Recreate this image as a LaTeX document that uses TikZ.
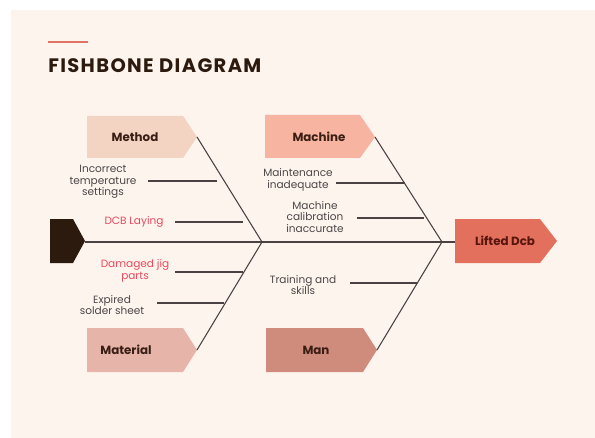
\documentclass[tikz,border=0pt]{standalone}
\usepackage{fontspec}
\setmainfont{Poppins}
\definecolor{bgc}{HTML}{FDF4EE}
\definecolor{methodc}{HTML}{F3D3C2}
\definecolor{materialc}{HTML}{E6B4A9}
\definecolor{machinec}{HTML}{F7B4A0}
\definecolor{manc}{HTML}{CF8B7B}
\definecolor{liftedc}{HTML}{E2705D}
\definecolor{headc}{HTML}{2D1A0E}
\definecolor{bonec}{HTML}{4A4242}
\definecolor{greytext}{HTML}{4B4646}
\definecolor{redtext}{HTML}{E8485C}
\definecolor{boxtext}{HTML}{3A1E14}
\definecolor{accent}{HTML}{E07464}
\begin{document}
\begin{tikzpicture}[x=0.75pt,y=-0.75pt,
  bone/.style={draw=bonec,line width=0.8pt},
  boxlabel/.style={font=\fontsize{8.9}{10}\selectfont\bfseries,text=boxtext,inner sep=0pt},
  cause/.style={font=\fontsize{7.9}{8.7}\selectfont,text=greytext,align=center,inner sep=0pt},
  redcause/.style={cause,text=redtext}]
\useasboundingbox (0,0) rectangle (595,438);
\fill[bgc] (11,10) rectangle (595,438);
% title
\draw[accent,line width=1.6pt] (48,42) -- (88,42);
\node[anchor=base west,inner sep=0pt,text=headc,font=\fontsize{14.6}{16}\selectfont\bfseries] (title) at (48,73) {\addfontfeature{LetterSpace=7}FISHBONE DIAGRAM};
% boxes
\fill[methodc] (87,116) -- (183,116) -- (197,137) -- (183,158) -- (87,158) -- cycle;
\fill[materialc] (87,328) -- (183,328) -- (197,350) -- (183,372) -- (87,372) -- cycle;
\fill[machinec] (265,115) -- (360,115) -- (375,137) -- (360,158) -- (265,158) -- cycle;
\fill[manc] (266,328) -- (363,328) -- (377,350) -- (363,372) -- (266,372) -- cycle;
\fill[liftedc] (455,219) -- (540,219) -- (557,241) -- (540,263) -- (455,263) -- cycle;
\fill[headc] (50,219) -- (73,219) -- (85,241) -- (73,263) -- (50,263) -- cycle;
\node[boxlabel] (method) at (135,137) {Method};
\node[boxlabel] (material) at (126,350) {Material};
\node[boxlabel] (machine) at (319,137) {Machine};
\node[boxlabel] (man) at (316,350) {Man};
\node[boxlabel,text=headc!80!red] (lifted) at (505,241) {Lifted Dcb};
% key points
\coordinate (headtip) at (85,242);
\coordinate (effect) at (455,242);
\coordinate (lv) at (262,242);
\coordinate (rv) at (442,242);
\coordinate (methodtip) at (197,137);
\coordinate (materialtip) at (197,350);
\coordinate (machinetip) at (375,137);
\coordinate (mantip) at (377,350);
% spine and bones
\draw[bone] (headtip) -- (effect);
\draw[bone] (methodtip) -- (lv) -- (materialtip);
\draw[bone] (machinetip) -- (rv) -- (mantip);
% causes
\node[cause] (c1) at (103,182) {Incorrect\\temperature\\settings};
\coordinate (c1a) at (148,181); \coordinate (c1b) at (217,181);
\draw[bone] (c1a) -- (c1b);
\node[redcause] (c2) at (134,222) {DCB Laying};
\coordinate (c2a) at (175,222); \coordinate (c2b) at (243,222);
\draw[bone] (c2a) -- (c2b);
\node[redcause] (c3) at (135,271) {Damaged jig\\parts};
\coordinate (c3a) at (175,272); \coordinate (c3b) at (243,272);
\draw[bone] (c3a) -- (c3b);
\node[cause] (c4) at (112,305) {Expired\\solder sheet};
\coordinate (c4a) at (157,303); \coordinate (c4b) at (224,303);
\draw[bone] (c4a) -- (c4b);
\node[cause] (c5) at (298,180) {Maintenance\\inadequate};
\coordinate (c5a) at (336,183); \coordinate (c5b) at (405,183);
\draw[bone] (c5a) -- (c5b);
\node[cause] (c6) at (315,217) {Machine\\calibration\\inaccurate};
\coordinate (c6a) at (357,218); \coordinate (c6b) at (424,218);
\draw[bone] (c6a) -- (c6b);
\node[cause] (c7) at (303,285) {Training and\\skills};
\coordinate (c7a) at (350,283); \coordinate (c7b) at (417,283);
\draw[bone] (c7a) -- (c7b);
\end{tikzpicture}
\end{document}
